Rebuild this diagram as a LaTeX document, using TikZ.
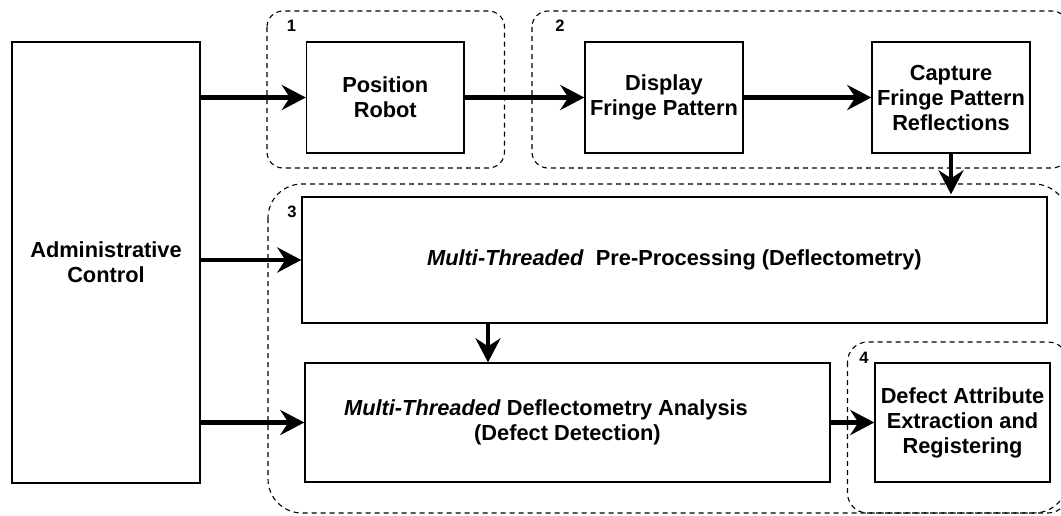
\documentclass[tikz,border=0pt]{standalone}
\usepackage{fontspec}
\setmainfont{Liberation Sans}
\usetikzlibrary{arrows.meta}

\begin{document}
\begin{tikzpicture}[x=1pt,y=-1pt,
  block/.style={draw, line width=1.4pt, fill=white, inner sep=0pt,
    font=\fontsize{21.8}{25}\selectfont\bfseries, align=center},
  group/.style={draw, line width=1.1pt, dash pattern=on 5pt off 4pt, rounded corners=#1},
  grouplabel/.style={inner sep=0pt, font=\fontsize{16.5}{16.5}\selectfont\bfseries},
  arr/.style={line width=4.5pt, -{Stealth[length=24pt,width=25pt,inset=8pt]}}]

\useasboundingbox (0,0) rectangle (1061,515);
\clip (0,0) rectangle (1061,515);

% dashed stage groups
\draw[group=16pt] (267,11) rectangle (504.5,168);
\draw[group=16pt] (532,11) rectangle (1068,168);
\draw[group=34pt] (268,184) rectangle (1068,513);
\draw[group=20pt] (847.5,342) rectangle (1068,513);

\node[grouplabel] (g1) at (291.5,26) {1};
\node[grouplabel] (g2) at (560,26) {2};
\node[grouplabel] (g3) at (292,212) {3};
\node[grouplabel] (g4) at (864,358) {4};

% process blocks
\node[block, minimum width=188pt, minimum height=441pt] (admin) at (106,262.5)
  {Administrative\\Control};
\node[block, minimum width=157.5pt, minimum height=111pt] (robot) at (385.25,97.5)
  {Position\\Robot};
\node[block, minimum width=158pt, minimum height=111pt] (display) at (664,97.5)
  {Display\\Fringe Pattern};
\node[block, minimum width=158pt, minimum height=111pt] (capture) at (951,97.5)
  {Capture\\Fringe Pattern\\Reflections};
\node[block, minimum width=745pt, minimum height=126pt] (preproc) at (674.5,260)
  {\textit{Multi-Threaded}\ \ Pre-Processing (Deflectometry)};
\node[block, minimum width=525pt, minimum height=119pt] (analysis) at (567.5,422.5)
  {\textit{Multi-Threaded} Deflectometry Analysis\hspace*{43pt}\\(Defect Detection)};
\node[block, minimum width=175pt, minimum height=119pt] (defect) at (962.5,422.5)
  {Defect Attribute\\Extraction and\\Registering};

\coordinate (drop) at (488,0);

% flow arrows
\draw[arr] (admin.east |- robot.west) -- (robot.west);
\draw[arr] (admin.east |- preproc.west) -- (preproc.west);
\draw[arr] (admin.east |- analysis.west) -- (analysis.west);
\draw[arr] (robot.east) -- (display.west);
\draw[arr] (display.east) -- (capture.west);
\draw[arr, shorten >=2pt] (capture.south) -- (preproc.north -| capture.south);
\draw[arr] (preproc.south -| drop) -- (analysis.north -| drop);
\draw[arr] (analysis.east) -- (defect.west);

\end{tikzpicture}
\end{document}
